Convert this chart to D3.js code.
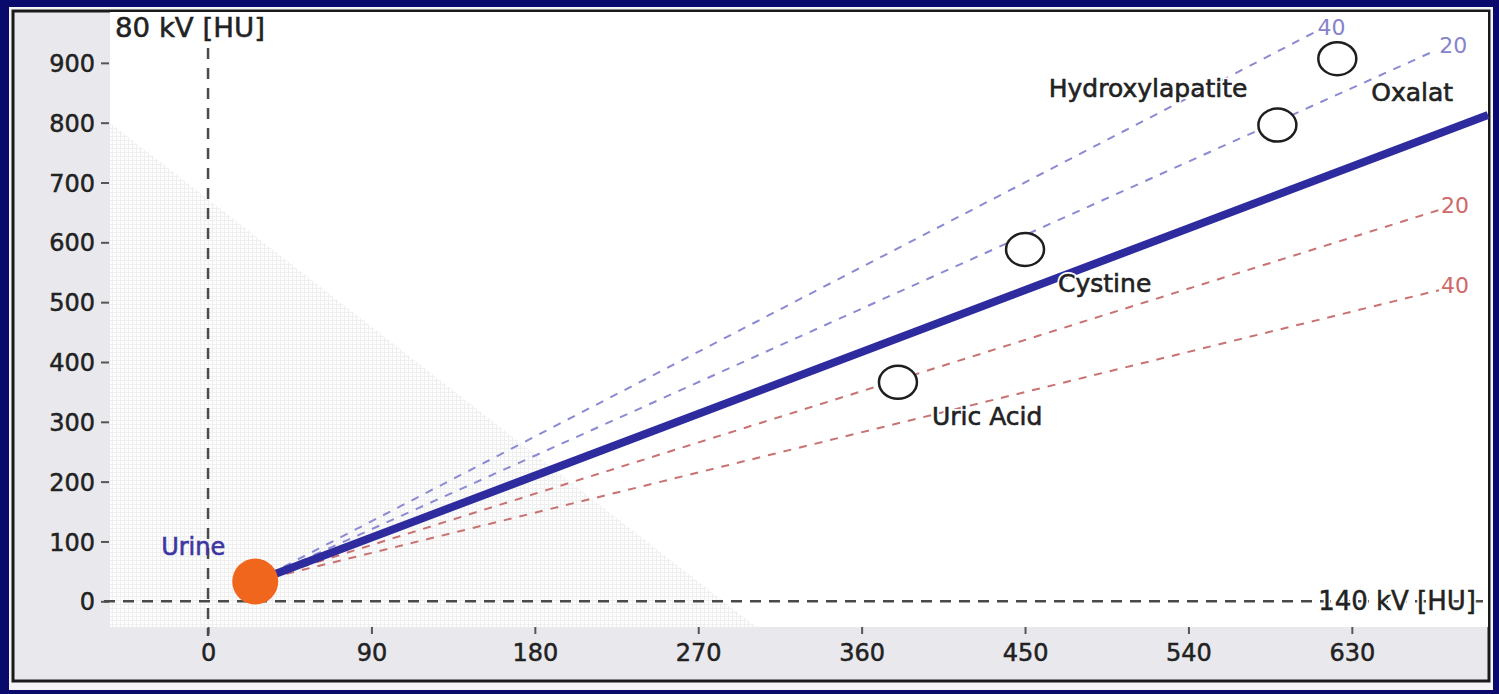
<!DOCTYPE html>
<html>
<head>
<meta charset="utf-8">
<script src="https://cdn.jsdelivr.net/npm/d3@7"></script>
<style>
  html, body { margin: 0; padding: 0; background: #0a0a6c; }
  svg { display: block; }
  text { font-family: "DejaVu Sans", Verdana, sans-serif; }
</style>
</head>
<body>
<svg id="chart" width="1499" height="694"></svg>
<script>
// ---- data ----
const xTicks = [0, 90, 180, 270, 360, 450, 540, 630];
const yTicks = [0, 100, 200, 300, 400, 500, 600, 700, 800, 900];
const xAxisLabel = "140 kV [HU]";
const yAxisLabel = "80 kV [HU]";

const urineName = "Urine";
const urine140 = 26;
const urine80 = 33;

const mainEnd140 = 705;
const mainEnd80 = 813;

const fanLabels = ["40", "20", "20", "40"];
const fanGroup = ["upper", "upper", "lower", "lower"];
const fanEnd140 = [610, 677, 678, 678];
const fanEnd80 = [952, 922, 654, 520];

const stoneNames = ["Oxalat", "Hydroxylapatite", "Cystine", "Uric Acid"];
const stone140 = [622, 589, 450, 380];
const stone80 = [907, 796, 588, 366];

const shadeX = [-54, 302, -54];
const shadeY = [800, -43, -43];

// ---- layout ----
const svg = d3.select("#chart");
const W = 1499, H = 694;
const plot = { left: 110, right: 1488, top: 12, bottom: 627 };

const x = d3.scaleLinear().domain([-54, 705]).range([plot.left, plot.right]);
const y = d3.scaleLinear().domain([-43, 985]).range([plot.bottom, plot.top]);

function boldText(sel, color, w) {
  return sel.attr("fill", color).attr("stroke", color).attr("stroke-width", w || 0.6);
}

// outer frame
svg.append("rect").attr("x", 0).attr("y", 0).attr("width", W).attr("height", H).attr("fill", "#0a0a6c");
svg.append("rect").attr("x", 9).attr("y", 7).attr("width", 1484).attr("height", 683).attr("fill", "#f4f4f6");
svg.append("rect").attr("x", 13).attr("y", 11).attr("width", 1476).attr("height", 670)
  .attr("fill", "#e9e9ed").attr("stroke", "#1a1a1a").attr("stroke-width", 3);

// plot area
svg.append("rect").attr("x", plot.left).attr("y", plot.top)
  .attr("width", plot.right - plot.left).attr("height", plot.bottom - plot.top).attr("fill", "#ffffff");

// dotted shaded triangle
const defs = svg.append("defs");
const pat = defs.append("pattern").attr("id", "dots").attr("width", 4).attr("height", 4)
  .attr("patternUnits", "userSpaceOnUse");
pat.append("rect").attr("width", 4).attr("height", 4).attr("fill", "#fdfdfd");
pat.append("rect").attr("width", 4).attr("height", 1).attr("fill", "#efefef");
pat.append("rect").attr("width", 1).attr("height", 4).attr("fill", "#efefef");

const shadePts = shadeX.map((v, i) => [x(v), y(shadeY[i])]);
svg.append("path").attr("d", d3.line()(shadePts) + "Z").attr("fill", "url(#dots)");

// axes ticks + labels
const yAxis = d3.axisLeft(y).tickValues(yTicks).tickSize(8).tickPadding(6);
const gy = svg.append("g").attr("transform", `translate(${plot.left - 1},0)`).call(yAxis);
gy.select(".domain").remove();
gy.selectAll(".tick line").attr("stroke", "#555").attr("stroke-width", 2);
boldText(gy.selectAll(".tick text").attr("font-size", 24).attr("dy", "0.36em"), "#222", 0.5);

const xAxis = d3.axisBottom(x).tickValues(xTicks).tickSize(7).tickPadding(10);
const gx = svg.append("g").attr("transform", `translate(0,${plot.bottom})`).call(xAxis);
gx.select(".domain").remove();
gx.selectAll(".tick line").attr("stroke", "#555").attr("stroke-width", 2);
boldText(gx.selectAll(".tick text").attr("font-size", 24).attr("dy", "0.72em"), "#222", 0.5);

// zero dashed axes
svg.append("line").attr("x1", x(0)).attr("x2", x(0)).attr("y1", 48).attr("y2", 636)
  .attr("stroke", "#4a4a4a").attr("stroke-width", 2.5).attr("stroke-dasharray", "11,9");
svg.append("line").attr("x1", 104).attr("x2", plot.right).attr("y1", y(0)).attr("y2", y(0))
  .attr("stroke", "#4a4a4a").attr("stroke-width", 2.5).attr("stroke-dasharray", "11,8");

boldText(svg.append("text").attr("x", 115).attr("y", 37).attr("font-size", 26)
  .attr("textLength", 150).attr("lengthAdjust", "spacingAndGlyphs"), "#222", 0.5)
  .text(yAxisLabel);
svg.append("text").attr("x", 1476).attr("y", y(0) + 9).attr("font-size", 26)
  .attr("text-anchor", "end").attr("fill", "#fff")
  .attr("stroke", "#fff").attr("stroke-width", 4)
  .text(xAxisLabel);
boldText(svg.append("text").attr("x", 1476).attr("y", y(0) + 9).attr("font-size", 26)
  .attr("text-anchor", "end"), "#222", 0.5)
  .text(xAxisLabel);

// fan lines
const fanColor = { upper: "#8c8ad2", lower: "#c87272" };
const fanTextColor = { upper: "#8683cc", lower: "#d06868" };
fanLabels.forEach((lab, i) => {
  svg.append("line")
    .attr("x1", x(urine140)).attr("y1", y(urine80))
    .attr("x2", x(fanEnd140[i])).attr("y2", y(fanEnd80[i]))
    .attr("stroke", fanColor[fanGroup[i]]).attr("stroke-width", 2)
    .attr("stroke-dasharray", "8,8");
  svg.append("text")
    .attr("x", x(fanEnd140[i]) + 2).attr("y", y(fanEnd80[i]) + 3)
    .attr("font-size", 22).attr("fill", fanTextColor[fanGroup[i]])
    .text(lab);
});

// main line
svg.append("line")
  .attr("x1", x(urine140)).attr("y1", y(urine80))
  .attr("x2", x(mainEnd140)).attr("y2", y(mainEnd80))
  .attr("stroke", "#2e2b9f").attr("stroke-width", 8);

// stones
const labelOffsets = [[34, 42, "start"], [-30, -28, "end"], [33, 42, "start"], [34, 43, "start"]];
stoneNames.forEach((name, i) => {
  const cx = x(stone140[i]), cy = y(stone80[i]);
  svg.append("ellipse").attr("cx", cx).attr("cy", cy).attr("rx", 19).attr("ry", 16.5)
    .attr("fill", "#fff").attr("stroke", "#1e1e1e").attr("stroke-width", 2.5);
  const o = labelOffsets[i];
  svg.append("text").attr("x", cx + o[0]).attr("y", cy + o[1])
    .attr("text-anchor", o[2]).attr("font-size", 25).attr("fill", "#fff")
    .attr("stroke", "#fff").attr("stroke-width", 4)
    .text(name);
  boldText(svg.append("text").attr("x", cx + o[0]).attr("y", cy + o[1])
    .attr("text-anchor", o[2]).attr("font-size", 25), "#222", 0.6)
    .text(name);
});

// urine
svg.append("circle").attr("cx", x(urine140)).attr("cy", y(urine80)).attr("r", 23)
  .attr("fill", "#f0661c");
boldText(svg.append("text").attr("x", x(urine140) - 30).attr("y", y(urine80) - 27)
  .attr("text-anchor", "end").attr("font-size", 24), "#3d35a2", 0.6)
  .text(urineName);
</script>
</body>
</html>
